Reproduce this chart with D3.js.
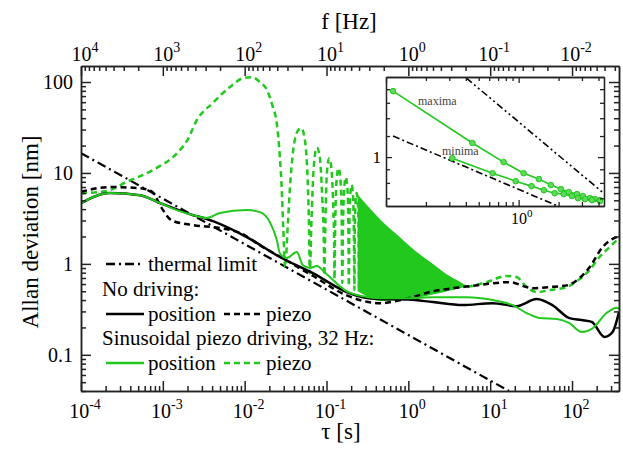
<!DOCTYPE html>
<html>
<head>
<meta charset="utf-8">
<script src="https://cdn.jsdelivr.net/npm/d3@7"></script>
<style>
body { margin: 0; background: #fff; }
svg { display: block; }
</style>
</head>
<body>
<div id="chart"></div>
<script>
var width = 623;
var height = 450;
var serif = "'Liberation Serif', 'Times New Roman', 'DejaVu Serif', serif";

// tick labels (powers of ten)
var tauExponents = [-4, -3, -2, -1, 0, 1, 2];
var freqExponents = [4, 3, 2, 1, 0, -1, -2];
var yTickLabels = ["0.1", "1", "10", "100"];
var yTickValues = [0.1, 1, 10, 100];

// series, [tau (s), Allan deviation (nm)]
var thermalLimit = [[1e-4, 16.5], [17, 0.04]];

var noDrivePosition = [[1e-4, 4.67], [2.26e-4, 6.0], [5.25e-4, 5.7], [9.2e-4, 4.67], [1.97e-3, 3.62],
	[4.1e-3, 2.95], [0.0106, 1.97], [0.0269, 1.19], [0.068, 0.79], [0.177, 0.49], [0.277, 0.43],
	[0.448, 0.41], [1, 0.405], [1.99, 0.38], [4.6, 0.352], [10.7, 0.37], [21, 0.343], [37, 0.41],
	[58, 0.35], [93, 0.253], [131, 0.241], [174, 0.23], [250, 0.157], [313, 0.178], [375, 0.295]];

var noDrivePiezo = [[1e-4, 6.2], [2.26e-4, 7.0], [5.25e-4, 6.8], [7.4e-4, 6.2], [9.7e-4, 4.1],
	[1.29e-3, 3.0], [2.33e-3, 2.67], [4.9e-3, 2.48], [8.7e-3, 2.2], [0.0167, 1.53], [0.0269, 1.2],
	[0.068, 0.74], [0.177, 0.45], [0.45, 0.37], [1, 0.42], [2, 0.5], [4.6, 0.556], [9.05, 0.6],
	[17.3, 0.63], [27.9, 0.556], [33, 0.54], [53, 0.556], [86, 0.58], [124, 0.7], [164, 0.92],
	[237, 1.53], [351, 1.97], [375, 2.0]];

var drivePosition = [[1e-4, 4.67], [2.26e-4, 6.0], [5.25e-4, 5.7], [9.2e-4, 4.67], [1.6e-3, 3.8],
	[2.33e-3, 3.44], [3.45e-3, 3.19], [4.97e-3, 3.62], [0.0106, 3.91], [0.0154, 3.71], [0.0203, 2.88],
	[0.0247, 1.83], [0.0269, 1.31], [0.0327, 1.16], [0.0433, 1.35], [0.0513, 0.97], [0.0625, 0.9],
	[0.0762, 0.95], [0.096, 0.8], [0.177, 0.5], [0.28, 0.44], [0.45, 0.42], [1, 0.42], [2, 0.43],
	[5.2, 0.43], [10.7, 0.40], [18.8, 0.352], [27.9, 0.288], [40, 0.254], [65, 0.248], [93, 0.223],
	[131, 0.178], [179, 0.196], [264, 0.288], [351, 0.33], [375, 0.32]];

// driven piezo: resolved oscillations
var drivePiezoHead = [[1e-4, 6.0], [2e-4, 6.3], [3.65e-4, 8.0], [7.6e-4, 10.8], [1.5e-3, 16.6],
	[2e-3, 23], [2.6e-3, 38], [4.1e-3, 59], [6.6e-3, 88], [9.5e-3, 110], [0.0122, 113], [0.0153, 100],
	[0.0187, 82], [0.0221, 53], [0.0247, 35], [0.0269, 15], [0.0284, 6.5], [0.0296, 2.5], [0.0312, 0.92],
	[0.0335, 2.5], [0.0356, 6.5], [0.0392, 17.9], [0.0452, 29.6], [0.0494, 31], [0.0544, 23],
	[0.0594, 6.5], [0.0612, 2.5], [0.0625, 0.79],
	[0.0655, 3.0], [0.070, 12], [0.076, 19], [0.082, 16], [0.089, 5], [0.0925, 2.0], [0.094, 0.75],
	[0.097, 3.0], [0.101, 10], [0.108, 14.5], [0.115, 11], [0.121, 4], [0.124, 1.6], [0.125, 0.68],
	[0.128, 3], [0.133, 8.5], [0.14, 11.3], [0.148, 8.5], [0.153, 3.5], [0.156, 0.62],
	[0.159, 2.5], [0.165, 7], [0.172, 9], [0.18, 6.8], [0.185, 2.5], [0.1875, 0.57],
	[0.19, 2.5], [0.196, 6], [0.203, 7.4], [0.211, 5.5], [0.216, 2], [0.219, 0.52],
	[0.222, 2.5], [0.227, 5], [0.234, 6.0], [0.242, 4.5], [0.247, 1.8], [0.25, 0.5]];

// driven piezo: dense oscillation band (upper / lower envelope)
var bandTau = [0.24, 0.3, 0.45, 0.785, 1.2, 2, 3, 4.2, 5.2];
var bandHigh = [5.8, 4.6, 3.1, 1.97, 1.4, 1.0, 0.76, 0.64, 0.57];
var bandLow = [0.5, 0.45, 0.39, 0.40, 0.42, 0.46, 0.5, 0.54, 0.56];

var drivePiezoTail = [[5.2, 0.556], [9.05, 0.63], [15.9, 0.735], [21, 0.716], [27.9, 0.556],
	[37, 0.49], [53, 0.514], [86, 0.556], [124, 0.68], [164, 0.855], [217, 1.19], [288, 1.53], [375, 1.92]];

// inset
var insetMaxX = [0.113, 0.448, 0.77, 1.09, 1.42, 1.75, 2.08, 2.39, 2.75, 3.05, 3.45, 3.76, 4.1];
var insetMaxY = [1.77, 1.13, 0.958, 0.87, 0.827, 0.785, 0.758, 0.739, 0.726, 0.714, 0.701, 0.695, 0.689];
var insetMinX = [0.316, 0.636, 0.95, 1.25, 1.55, 1.87, 2.19, 2.52, 2.8, 3.16, 3.57, 4.1];
var insetMinY = [0.991, 0.87, 0.812, 0.778, 0.751, 0.732, 0.726, 0.714, 0.701, 0.695, 0.689, 0.683];
var insetLowLine = [[0.113, 1.2], [2.2, 0.64]];
var insetHighLine = [[0.404, 1.98], [4.4, 0.73]];
var insetYMinor = [0.7, 0.8, 0.9, 1.2, 1.4, 1.6, 1.8];

var green = "#22c81e";
var axisColor = "#222";

var svg = d3.select("#chart").append("svg")
	.attr("width", width)
	.attr("height", height)
	.attr("font-family", serif)
	.style("font-family", serif);

var x = d3.scaleLog().domain([1e-4, 375]).range([81, 619]);
var y = d3.scaleLog().domain([0.04, 150]).range([391, 66]);
var f = d3.scaleLog().domain([1e4, 1 / 375]).range([81, 619]);

svg.append("clipPath").attr("id", "plot-clip")
	.append("rect").attr("x", 81).attr("y", 66).attr("width", 538).attr("height", 325);

var plot = svg.append("g").attr("clip-path", "url(#plot-clip)");

var line = d3.line()
	.x(function(d) { return x(d[0]); })
	.y(function(d) { return y(d[1]); })
	.curve(d3.curveMonotoneX);

function isMajor(v) {
	var l = Math.log10(v);
	return Math.abs(l - Math.round(l)) < 1e-6;
}

// thermal limit
plot.append("path")
	.attr("d", d3.line().x(function(d) { return x(d[0]); }).y(function(d) { return y(d[1]); })(thermalLimit))
	.attr("fill", "none")
	.attr("stroke", "#000")
	.attr("stroke-width", 2.2)
	.attr("stroke-dasharray", "9,4,2,4");

// driven piezo band
plot.append("path")
	.attr("d", d3.area()
		.x(function(d, i) { return x(bandTau[i]); })
		.y0(function(d, i) { return y(bandLow[i]); })
		.y1(function(d, i) { return y(bandHigh[i]); })
		.curve(d3.curveMonotoneX)(bandTau))
	.attr("fill", green);

plot.append("path")
	.attr("d", line(drivePiezoHead))
	.attr("fill", "none")
	.attr("stroke", green)
	.attr("stroke-width", 2.5)
	.attr("stroke-dasharray", "6,4");

plot.append("path")
	.attr("d", line(drivePiezoTail))
	.attr("fill", "none")
	.attr("stroke", green)
	.attr("stroke-width", 2.5)
	.attr("stroke-dasharray", "6,4");

plot.append("path")
	.attr("d", line(noDrivePiezo))
	.attr("fill", "none")
	.attr("stroke", "#000")
	.attr("stroke-width", 2.5)
	.attr("stroke-dasharray", "6,4");

plot.append("path")
	.attr("d", line(noDrivePosition))
	.attr("fill", "none")
	.attr("stroke", "#000")
	.attr("stroke-width", 2.5);

plot.append("path")
	.attr("d", line(drivePosition))
	.attr("fill", "none")
	.attr("stroke", green)
	.attr("stroke-width", 2);

// legend
var legend = svg.append("g").attr("font-size", 21).attr("font-family", serif).attr("fill", "#000");
function legendLine(x1, x2, yy, color, dash) {
	legend.append("line")
		.attr("x1", x1).attr("x2", x2).attr("y1", yy).attr("y2", yy)
		.attr("stroke", color)
		.attr("stroke-width", 2.5)
		.attr("stroke-dasharray", dash);
}
legendLine(106, 144, 264, "#000", "9,4,2,4");
legend.append("text").attr("x", 148).attr("y", 271).text("thermal limit");
legend.append("text").attr("x", 102).attr("y", 296).text("No driving:");
legendLine(106, 144, 314, "#000", null);
legend.append("text").attr("x", 148).attr("y", 321).text("position");
legendLine(224, 263, 314, "#000", "6,4");
legend.append("text").attr("x", 266).attr("y", 321).text("piezo");
legend.append("text").attr("x", 102).attr("y", 345).text("Sinusoidal piezo driving, 32 Hz:");
legendLine(106, 144, 363, green, null);
legend.append("text").attr("x", 148).attr("y", 370).text("position");
legendLine(224, 263, 363, green, "6,4");
legend.append("text").attr("x", 266).attr("y", 370).text("piezo");

// inset
var ix = d3.scaleLog().domain([0.1, 4.4]).range([386, 604]);
var iy = d3.scaleLog().domain([0.655, 2.0]).range([206, 77]);

var inset = svg.append("g");
inset.append("rect")
	.attr("x", 386).attr("y", 77).attr("width", 218).attr("height", 129)
	.attr("fill", "#fff");
svg.append("clipPath").attr("id", "inset-clip")
	.append("rect").attr("x", 386).attr("y", 77).attr("width", 218).attr("height", 129);
var insetPlot = inset.append("g").attr("clip-path", "url(#inset-clip)");

var iline = d3.line()
	.x(function(d) { return ix(d[0]); })
	.y(function(d) { return iy(d[1]); });

insetPlot.append("path")
	.attr("d", iline(insetLowLine))
	.attr("fill", "none").attr("stroke", "#000").attr("stroke-width", 1.6)
	.attr("stroke-dasharray", "7,3,2,3");
insetPlot.append("path")
	.attr("d", iline(insetHighLine))
	.attr("fill", "none").attr("stroke", "#000").attr("stroke-width", 1.6)
	.attr("stroke-dasharray", "7,3,2,3,2,3");

var maxPts = insetMaxX.map(function(v, i) { return [v, insetMaxY[i]]; });
var minPts = insetMinX.map(function(v, i) { return [v, insetMinY[i]]; });
[maxPts, minPts].forEach(function(pts) {
	insetPlot.append("path")
		.attr("d", iline(pts))
		.attr("fill", "none").attr("stroke", green).attr("stroke-width", 1.6);
	insetPlot.selectAll(null)
		.data(pts)
		.enter()
		.append("circle")
		.attr("cx", function(d) { return ix(d[0]); })
		.attr("cy", function(d) { return iy(d[1]); })
		.attr("r", 2.8)
		.attr("fill", "#5fd95c")
		.attr("stroke", green)
		.attr("stroke-width", 1);
});

inset.append("text").attr("x", 418).attr("y", 105).attr("font-size", 12).attr("font-family", serif).attr("fill", "#444").text("maxima");
inset.append("text").attr("x", 442).attr("y", 155).attr("font-size", 12).attr("font-family", serif).attr("fill", "#444").text("minima");

function styleAxis(g, w) {
	g.selectAll("path, line").attr("stroke", axisColor).attr("stroke-width", w);
}

var ixTicks = ix.ticks();
var ixMajor = ixTicks.filter(isMajor);
var ixMinor = ixTicks.filter(function(v) { return !isMajor(v); });
function insetAxis(axisFn, scale, major, minor, tx, ty) {
	inset.append("g").attr("transform", "translate(" + tx + "," + ty + ")")
		.call(axisFn(scale).tickValues(major).tickSize(-6).tickSizeOuter(0).tickFormat(""))
		.call(styleAxis, 1.3);
	inset.append("g").attr("transform", "translate(" + tx + "," + ty + ")")
		.call(axisFn(scale).tickValues(minor).tickSize(-4).tickSizeOuter(0).tickFormat(""))
		.call(styleAxis, 1.3);
}
insetAxis(d3.axisBottom, ix, ixMajor, ixMinor, 0, 206);
insetAxis(d3.axisTop, ix, ixMajor, ixMinor, 0, 77);
insetAxis(d3.axisLeft, iy, [1], insetYMinor, 386, 0);
insetAxis(d3.axisRight, iy, [1], insetYMinor, 604, 0);

inset.append("text")
	.attr("x", 381).attr("y", iy(1) + 6)
	.attr("text-anchor", "end").attr("font-size", 17).attr("font-family", serif)
	.text("1");
var i0 = inset.append("text")
	.attr("x", ix(1) + 3).attr("y", 224)
	.attr("text-anchor", "middle").attr("font-size", 16).attr("font-family", serif);
i0.append("tspan").text("10");
i0.append("tspan").attr("dy", -7).attr("font-size", 11).text("0");

// main axes
function axisPair(axisFn, scale, tx, ty) {
	var ticks = scale.ticks();
	var major = ticks.filter(isMajor);
	var minor = ticks.filter(function(v) { return !isMajor(v); });
	svg.append("g").attr("transform", "translate(" + tx + "," + ty + ")")
		.call(axisFn(scale).tickValues(minor).tickSize(-5).tickSizeOuter(0).tickFormat(""))
		.call(styleAxis, 1.5);
	svg.append("g").attr("transform", "translate(" + tx + "," + ty + ")")
		.call(axisFn(scale).tickValues(major).tickSize(-10).tickSizeOuter(0).tickFormat(""))
		.call(styleAxis, 1.5);
}
axisPair(d3.axisBottom, x, 0, 391);
axisPair(d3.axisTop, f, 0, 66);
axisPair(d3.axisLeft, y, 81, 0);
axisPair(d3.axisRight, y, 619, 0);

function powerLabel(px, py, exp) {
	var t = svg.append("text")
		.attr("x", px).attr("y", py)
		.attr("text-anchor", "middle")
		.attr("font-family", serif)
		.attr("font-size", 20);
	t.append("tspan").text("10");
	t.append("tspan").attr("dy", -9).attr("font-size", 14).text(exp);
}
tauExponents.forEach(function(e) {
	powerLabel(x(Math.pow(10, e)) + 4, 418, e);
});
freqExponents.forEach(function(e) {
	powerLabel(f(Math.pow(10, e)) + 4, 61, e);
});

svg.selectAll(".ylab")
	.data(yTickValues)
	.enter()
	.append("text")
	.attr("class", "ylab")
	.attr("x", 73)
	.attr("y", function(d) { return y(d) + 7; })
	.attr("text-anchor", "end")
	.attr("font-family", serif)
	.attr("font-size", 20)
	.text(function(d, i) { return yTickLabels[i]; });

svg.append("text")
	.attr("x", 341).attr("y", 439)
	.attr("text-anchor", "middle")
	.attr("font-family", serif)
	.attr("font-size", 23)
	.text("τ [s]");
svg.append("text")
	.attr("x", 349).attr("y", 29)
	.attr("text-anchor", "middle")
	.attr("font-family", serif)
	.attr("font-size", 23)
	.text("f [Hz]");
svg.append("text")
	.attr("transform", "translate(38,232) rotate(-90)")
	.attr("text-anchor", "middle")
	.attr("font-family", serif)
	.attr("font-size", 23)
	.text("Allan deviation [nm]");
</script>
</body>
</html>
